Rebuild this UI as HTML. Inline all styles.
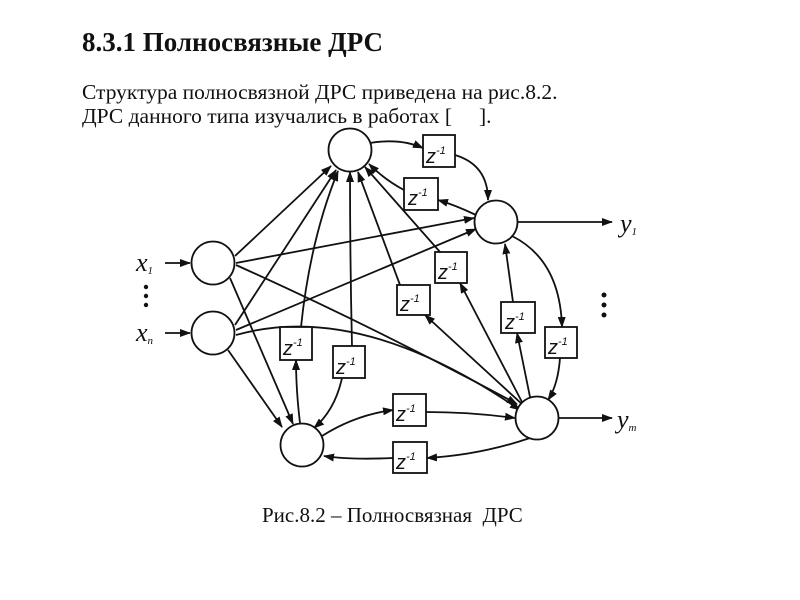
<!DOCTYPE html>
<html><head><meta charset="utf-8"><style>
body{margin:0;background:#fff;width:800px;height:600px;overflow:hidden;font-family:"Liberation Serif",serif;}
.t{position:absolute;white-space:nowrap;color:#111;line-height:1}
</style></head><body>
<div class="t" style="left:82px;top:29px;font-size:27px;font-weight:bold">8.3.1 Полносвязные ДРС</div>
<div class="t" style="left:82px;top:82px;font-size:21.5px">Структура полносвязной ДРС приведена на рис.8.2.</div>
<div class="t" style="left:82px;top:106px;font-size:21.5px">ДРС данного типа изучались в работах [&nbsp;&nbsp;&nbsp;&nbsp;&nbsp;].</div>
<div class="t" style="left:262px;top:505px;font-size:21px">Рис.8.2 – Полносвязная&nbsp; ДРС</div>
<svg width="800" height="600" style="position:absolute;left:0;top:0">
<defs><marker id="a" markerWidth="11" markerHeight="8" refX="10" refY="4" orient="auto" markerUnits="userSpaceOnUse"><path d="M0,0 L11,4 L0,8 z" fill="#111"/></marker></defs>
<g stroke="#111" stroke-width="1.8" fill="none" marker-end="url(#a)">
<line x1="165" y1="263" x2="190" y2="263"/>
<line x1="165" y1="333" x2="190" y2="333"/>
<line x1="518" y1="222" x2="612" y2="222"/>
<line x1="559" y1="418" x2="612" y2="418"/>
<line x1="235" y1="256" x2="331" y2="166"/>
<line x1="236" y1="263" x2="474" y2="218"/>
<line x1="230" y1="278" x2="293" y2="424"/>
<path d="M236,265 Q380,330 517,404"/>
<line x1="235" y1="325" x2="336" y2="170"/>
<line x1="236" y1="330" x2="476" y2="229"/>
<line x1="228" y1="350" x2="282" y2="427"/>
<path d="M236,335 Q360,300 520,410"/>
<path d="M300,423 Q296,390 296,360"/><path d="M301,327 Q310,240 338,171"/>
<path d="M352,346 Q350,260 350,172"/><path d="M342,378 Q335,410 314,428"/>
<path d="M370,143 Q400,138 423,148" marker-end=""/><path d="M455,155 Q488,165 488,200"/>
<path d="M476,215 Q455,205 438,200" marker-end=""/><path d="M404,190 Q385,180 369,164"/>
<line x1="522" y1="402" x2="460" y2="283" marker-end=""/><line x1="440" y1="252" x2="365" y2="167"/>
<line x1="523" y1="405" x2="425" y2="315" marker-end=""/><line x1="400" y1="285" x2="358" y2="172"/>
<path d="M512,236 Q560,260 562,327" marker-end=""/><path d="M560,358 Q558,385 548,400"/>
<line x1="530" y1="397" x2="517" y2="333" marker-end=""/><line x1="513" y1="302" x2="505" y2="244"/>
<path d="M322,436 Q355,415 393,410" marker-end=""/><path d="M426,412 Q470,412 515,418"/>
<path d="M530,438 Q480,455 427,458" marker-end=""/><path d="M393,458 Q350,460 324,456"/>
</g>
<g stroke="#111" stroke-width="1.8" fill="#fff">
<circle cx="350" cy="150" r="21.5"/><circle cx="496" cy="222" r="21.5"/>
<circle cx="213" cy="263" r="21.5"/><circle cx="213" cy="333" r="21.5"/>
<circle cx="302" cy="445" r="21.5"/><circle cx="537" cy="418" r="21.5"/>
<rect x="423" y="135" width="32" height="32"/><rect x="404" y="178" width="34" height="32"/>
<rect x="435" y="252" width="32" height="31"/><rect x="397" y="285" width="33" height="30"/>
<rect x="501" y="302" width="34" height="31"/><rect x="545" y="327" width="32" height="31"/>
<rect x="280" y="327" width="32" height="33"/><rect x="333" y="346" width="32" height="32"/>
<rect x="393" y="394" width="33" height="32"/><rect x="393" y="442" width="34" height="31"/>
</g>
<g font-family="Liberation Sans" font-style="italic" font-size="20" fill="#111">
<text x="426" y="163">z<tspan font-size="11" dy="-9">-1</tspan></text>
<text x="408" y="205">z<tspan font-size="11" dy="-9">-1</tspan></text>
<text x="438" y="279">z<tspan font-size="11" dy="-9">-1</tspan></text>
<text x="400" y="311">z<tspan font-size="11" dy="-9">-1</tspan></text>
<text x="505" y="329">z<tspan font-size="11" dy="-9">-1</tspan></text>
<text x="548" y="354">z<tspan font-size="11" dy="-9">-1</tspan></text>
<text x="283" y="355">z<tspan font-size="11" dy="-9">-1</tspan></text>
<text x="336" y="374">z<tspan font-size="11" dy="-9">-1</tspan></text>
<text x="396" y="421">z<tspan font-size="11" dy="-9">-1</tspan></text>
<text x="396" y="469">z<tspan font-size="11" dy="-9">-1</tspan></text>
</g>
<g font-family="Liberation Serif" font-style="italic" font-size="26" fill="#111">
<text x="136" y="271">x<tspan font-size="11" dy="3">1</tspan></text>
<text x="136" y="341">x<tspan font-size="11" dy="3">n</tspan></text>
<text x="620" y="232">y<tspan font-size="11" dy="3">1</tspan></text>
<text x="617" y="428">y<tspan font-size="11" dy="3">m</tspan></text>
</g>
<g fill="#111"><circle cx="146" cy="287" r="2.2"/><circle cx="146" cy="296" r="2.2"/><circle cx="146" cy="305" r="2.2"/>
<circle cx="604" cy="295" r="2.5"/><circle cx="604" cy="305" r="2.5"/><circle cx="604" cy="315" r="2.5"/></g>
</svg>
</body></html>
